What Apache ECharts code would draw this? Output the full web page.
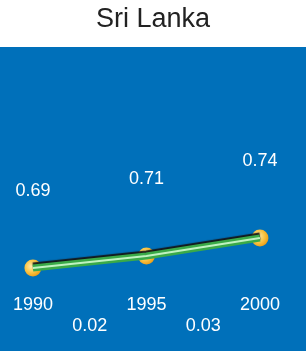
<!DOCTYPE html>
<html>
<head>
<meta charset="utf-8">
<script src="https://cdn.jsdelivr.net/npm/echarts@6/dist/echarts.min.js"></script>
<style>
  html, body { margin: 0; padding: 0; background: #fff; }
  #chart { width: 306px; height: 351px; }
</style>
</head>
<body>
<div id="chart"></div>
<script>
const chart = echarts.init(document.getElementById('chart'))

// 数据
const years = [1990, 1995, 2000]
const values = [0.69, 0.71, 0.74]
const gapYears = [1992.5, 1997.5]
const gapLabels = ['0.02', '0.03']

const font = 'Liberation Sans, Arial, sans-serif'
const points = years.map((y, i) => [y, values[i]])
const xMin = 1988.55
const xMax = 2002.03

const option = {
  backgroundColor: '#fff',
  title: {
    text: 'Sri Lanka',
    left: 'center',
    top: 1,
    textStyle: { fontFamily: font, fontSize: 27, fontWeight: 'normal', color: '#222' },
  },
  grid: {
    left: 0,
    right: 0,
    top: 47,
    bottom: 0,
    show: true,
    backgroundColor: '#0070BA',
    borderWidth: 0,
  },
  xAxis: [
    {
      type: 'value',
      min: xMin,
      max: xMax,
      position: 'bottom',
      splitLine: { show: false },
      axisLine: { show: false },
      axisTick: { show: false },
      axisLabel: {
        inside: true,
        margin: 37,
        customValues: years,
        color: '#fff',
        fontFamily: font,
        fontSize: 18,
        formatter: (v) => String(Math.round(v)),
      },
    },
    {
      type: 'value',
      min: xMin,
      max: xMax,
      position: 'bottom',
      splitLine: { show: false },
      axisLine: { show: false },
      axisTick: { show: false },
      axisLabel: {
        inside: true,
        margin: 16,
        customValues: gapYears,
        color: '#fff',
        fontFamily: font,
        fontSize: 18,
        formatter: (v) => gapLabels[gapYears.indexOf(v)],
      },
    },
  ],
  yAxis: {
    type: 'value',
    min: 0.552,
    max: 1.058,
    show: false,
  },
  series: [
    {
      // 圆点（在线条下面）
      type: 'scatter',
      data: points,
      symbol: 'circle',
      symbolSize: 17,
      itemStyle: {
        opacity: 1,
        color: new echarts.graphic.RadialGradient(0.4, 0.4, 0.65, [
          { offset: 0, color: '#FFEBB0' },
          { offset: 0.55, color: '#FAC545' },
          { offset: 1, color: '#EC9A10' },
        ]),
      },
      label: {
        show: true,
        position: 'top',
        distance: 60,
        color: '#fff',
        opacity: 1,
        fontFamily: font,
        fontSize: 18,
        formatter: (p) => values[p.dataIndex].toFixed(2),
      },
      z: 1,
    },
    {
      type: 'line',
      data: points,
      lineStyle: {
        color: '#3AAA48',
        width: 7,
        shadowColor: 'rgba(20,20,20,0.95)',
        shadowOffsetY: -2,
        shadowBlur: 1,
      },
      symbol: 'none',
      z: 2,
    },
    {
      type: 'line',
      data: points,
      lineStyle: { color: 'rgba(215,255,215,0.85)', width: 2 },
      symbol: 'none',
      z: 3,
    },
  ],
}

chart.setOption(option)
</script>
</body>
</html>
